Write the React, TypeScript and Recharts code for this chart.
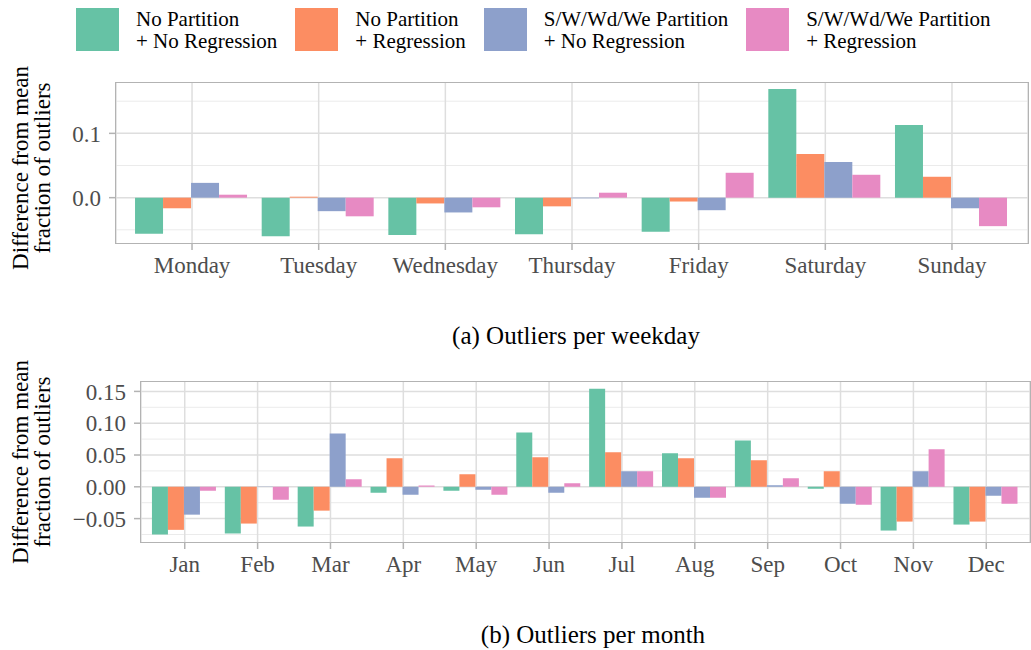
import React from "react";
import { BarChart, Bar, XAxis, YAxis, CartesianGrid } from "recharts";

const weekdays = ["Monday", "Tuesday", "Wednesday", "Thursday", "Friday", "Saturday", "Sunday"];
const months = ["Jan", "Feb", "Mar", "Apr", "May", "Jun", "Jul", "Aug", "Sep", "Oct", "Nov", "Dec"];

const seriesKeys = ["npnr", "npr", "swnr", "swr"];
const seriesLine1 = ["No Partition", "No Partition", "S/W/Wd/We Partition", "S/W/Wd/We Partition"];
const seriesLine2 = ["+ No Regression", "+ Regression", "+ No Regression", "+ Regression"];
const colors = ["#66c2a5", "#fc8d62", "#8da0cb", "#e78ac3"];

// per weekday
const dayNoPartNoReg = [-0.056, -0.06, -0.058, -0.057, -0.053, 0.169, 0.113];
const dayNoPartReg = [-0.0165, 0.0015, -0.009, -0.0135, -0.006, 0.068, 0.0325];
const daySwNoReg = [0.023, -0.021, -0.023, -0.001, -0.0195, 0.0555, -0.0165];
const daySwReg = [0.0046, -0.029, -0.015, 0.0077, 0.0387, 0.0356, -0.0443];

// per month
const monNoPartNoReg = [-0.075, -0.0734, -0.0625, -0.0094, -0.0063, 0.0854, 0.154, 0.0526, 0.0729, -0.0031, -0.0688, -0.0594];
const monNoPartReg = [-0.0677, -0.0578, -0.0375, 0.0448, 0.0198, 0.0464, 0.0542, 0.0448, 0.0417, 0.0245, -0.0547, -0.0547];
const monSwNoReg = [-0.0438, -0.0005, 0.0839, -0.0125, -0.0047, -0.0094, 0.0245, -0.0172, 0.0026, -0.0266, 0.0245, -0.0141];
const monSwReg = [-0.0063, -0.0203, 0.012, 0.002, -0.0125, 0.0057, 0.0245, -0.0172, 0.0135, -0.0281, 0.0589, -0.0266];

const dayTicks = [0, 0.1];
const dayMinor = [-0.05, 0.05, 0.15];
const monTicks = [-0.05, 0, 0.05, 0.1, 0.15];
const monMinor = [-0.075, -0.025, 0.025, 0.075, 0.125];

const dayData = weekdays.map((name, i) => ({
  name,
  npnr: dayNoPartNoReg[i],
  npr: dayNoPartReg[i],
  swnr: daySwNoReg[i],
  swr: daySwReg[i],
}));

const monData = months.map((name, i) => ({
  name,
  npnr: monNoPartNoReg[i],
  npr: monNoPartReg[i],
  swnr: monSwNoReg[i],
  swr: monSwReg[i],
}));

const FONT = '"Liberation Serif", "DejaVu Serif", serif';
const tickStyle = { fill: "#4d4d4d", fontSize: 23, fontFamily: FONT };
const tickLine = { stroke: "#b3b3b3", strokeWidth: 1.5 };

const fmt = (v: number, d: number) => (v < 0 ? "\u2212" + Math.abs(v).toFixed(d) : v.toFixed(d));

function AxisTitle({ cx, cy }: { cx: number; cy: number }) {
  return (
    <div
      style={{
        position: "absolute",
        left: cx - 150,
        top: cy - 22,
        width: 300,
        height: 44,
        lineHeight: "22px",
        fontSize: 23,
        textAlign: "center",
        transform: "rotate(-90deg)",
        color: "#000",
      }}
    >
      Difference from mean
      <br />
      fraction of outliers
    </div>
  );
}

function Panel({ left, top, width, height }: { left: number; top: number; width: number; height: number }) {
  return (
    <div
      style={{
        position: "absolute",
        left: left - 0.75,
        top: top - 0.75,
        width: width + 1.5,
        height: height + 1.5,
        boxSizing: "border-box",
        border: "1.5px solid #b3b3b3",
        pointerEvents: "none",
      }}
    />
  );
}

export default function App() {
  return (
    <div style={{ position: "absolute", left: 0, top: 0, width: 1031, height: 650, background: "#fff", fontFamily: FONT }}>
      {/* legend */}
      <div style={{ position: "absolute", left: 76, top: 8, display: "flex" }}>
        {seriesKeys.map((k, i) => (
          <div key={k} style={{ display: "flex", alignItems: "flex-start", marginRight: 18 }}>
            <div style={{ width: 43, height: 43, background: colors[i], marginRight: 17 }} />
            <div style={{ fontSize: 21, lineHeight: "22px", color: "#000", marginTop: 0 }}>
              {seriesLine1[i]}
              <br />
              {seriesLine2[i]}
            </div>
          </div>
        ))}
      </div>

      {/* (a) weekday */}
      <div style={{ position: "absolute", left: 0, top: 0 }}>
        <BarChart
          width={1031}
          height={290}
          data={dayData}
          margin={{ top: 83, right: 3, bottom: 7, left: 36 }}
          barCategoryGap="5%"
          barGap={0}
        >
          <CartesianGrid horizontalValues={dayMinor} vertical={false} stroke="#ebebeb" strokeWidth={1} />
          <CartesianGrid horizontalValues={dayTicks} stroke="#dedede" strokeWidth={1.5} />
          <XAxis
            dataKey="name"
            height={40}
            padding={{ left: 12.7, right: 12.7 }}
            axisLine={false}
            tickLine={tickLine}
            tickSize={7}
            tickMargin={7}
            tick={tickStyle}
            interval={0}
          />
          <YAxis
            width={80}
            type="number"
            domain={[-0.0705, 0.1783]}
            ticks={dayTicks}
            tickFormatter={(v: number) => fmt(v, 1)}
            axisLine={false}
            tickLine={tickLine}
            tickSize={7}
            tickMargin={8}
            tick={tickStyle}
            allowDataOverflow
          />
          {seriesKeys.map((k, i) => (
            <Bar key={k} dataKey={k} fill={colors[i]} isAnimationActive={false} />
          ))}
        </BarChart>
      </div>
      <Panel left={116} top={83} width={912} height={160} />
      <AxisTitle cx={32} cy={168} />
      <div style={{ position: "absolute", left: 376, width: 400, top: 322, fontSize: 25, textAlign: "center", color: "#000" }}>
        (a) Outliers per weekday
      </div>

      {/* (b) month */}
      <div style={{ position: "absolute", left: 0, top: 360 }}>
        <BarChart
          width={1031}
          height={230}
          data={monData}
          margin={{ top: 22, right: 1, bottom: 8, left: 61 }}
          barCategoryGap="5%"
          barGap={0}
        >
          <CartesianGrid horizontalValues={monMinor} vertical={false} stroke="#ebebeb" strokeWidth={1} />
          <CartesianGrid horizontalValues={monTicks} stroke="#dedede" strokeWidth={1.5} />
          <XAxis
            dataKey="name"
            height={40}
            padding={{ left: 7.3, right: 7.3 }}
            axisLine={false}
            tickLine={tickLine}
            tickSize={7}
            tickMargin={7}
            tick={tickStyle}
            interval={0}
          />
          <YAxis
            width={80}
            type="number"
            domain={[-0.0868, 0.1648]}
            ticks={monTicks}
            tickFormatter={(v: number) => fmt(v, 2)}
            axisLine={false}
            tickLine={tickLine}
            tickSize={7}
            tickMargin={8}
            tick={tickStyle}
            allowDataOverflow
          />
          {seriesKeys.map((k, i) => (
            <Bar key={k} dataKey={k} fill={colors[i]} isAnimationActive={false} />
          ))}
        </BarChart>
      </div>
      <Panel left={141} top={382} width={889} height={160} />
      <AxisTitle cx={32} cy={462} />
      <div style={{ position: "absolute", left: 393, width: 400, top: 621, fontSize: 25, textAlign: "center", color: "#000" }}>
        (b) Outliers per month
      </div>
    </div>
  );
}
